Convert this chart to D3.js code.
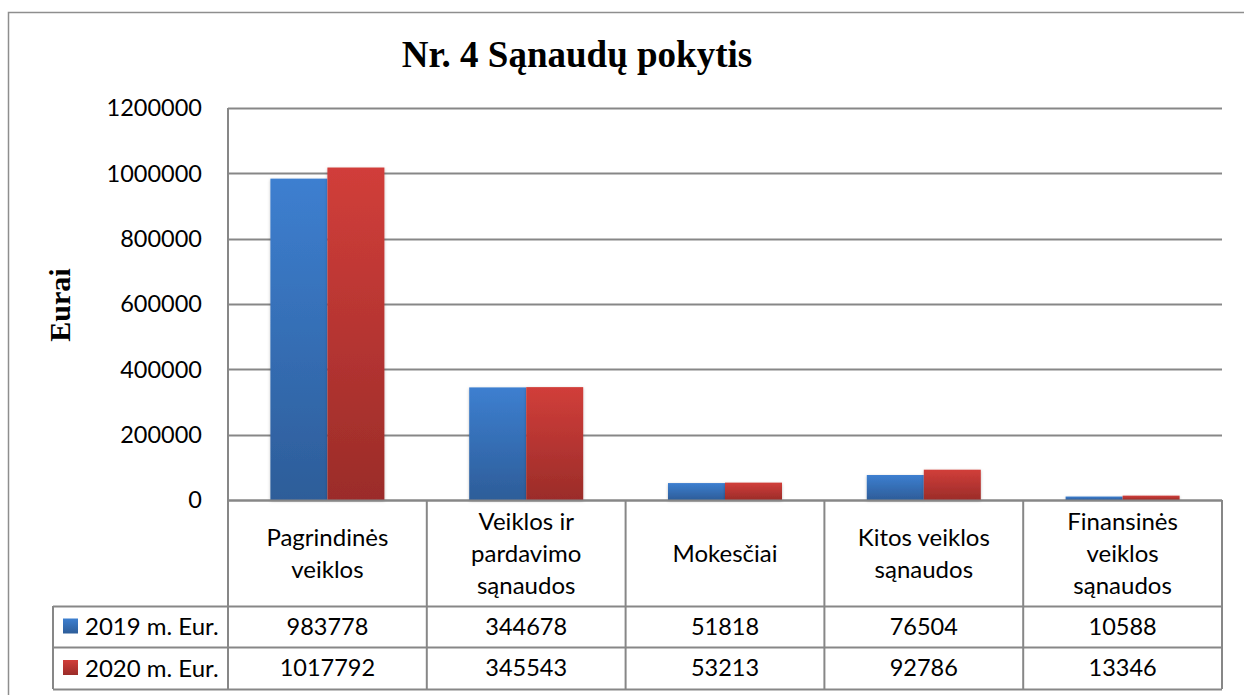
<!DOCTYPE html>
<html>
<head>
<meta charset="utf-8">
<script src="https://cdn.jsdelivr.net/npm/d3@7"></script>
<style>
  body { margin: 0; background: #fff; }
  svg { display: block; }
</style>
</head>
<body>
<div id="chart"></div>
<script>
// chart values
var categories = [
  ['Pagrindinės', 'veiklos'],
  ['Veiklos ir', 'pardavimo', 'sąnaudos'],
  ['Mokesčiai'],
  ['Kitos veiklos', 'sąnaudos'],
  ['Finansinės', 'veiklos', 'sąnaudos']
];
var seriesNames = ['2019 m. Eur.', '2020 m. Eur.'];
var values2019 = [983778, 344678, 51818, 76504, 10588];
var values2020 = [1017792, 345543, 53213, 92786, 13346];
var yTicks = [0, 200000, 400000, 600000, 800000, 1000000, 1200000];

var width = 1244, height = 695;
var plot = { left: 228, right: 1222, top: 108, bottom: 500 };
var headerBottom = 606, row1Bottom = 647, row2Bottom = 689, legendLeft = 53;
var gridColor = '#878787';
var labelFont = 'Lato, "Open Sans", sans-serif';
var numSize = '23.5px', catSize = '24px';

var svg = d3.select('#chart').append('svg')
  .attr('width', width)
  .attr('height', height);

var defs = svg.append('defs');
var grads = [
  { id: 'g2019', top: '#3d7fd0', bottom: '#2d5d99' },
  { id: 'g2020', top: '#d13e3a', bottom: '#9b2c29' }
];
grads.forEach(function(g) {
  var lg = defs.append('linearGradient')
    .attr('id', g.id)
    .attr('x1', 0).attr('y1', 0).attr('x2', 0).attr('y2', 1);
  lg.append('stop').attr('offset', '0%').attr('stop-color', g.top);
  lg.append('stop').attr('offset', '100%').attr('stop-color', g.bottom);
});
var shadow = defs.append('filter').attr('id', 'shadow')
  .attr('x', '-20%').attr('y', '-20%').attr('width', '140%').attr('height', '140%');
shadow.append('feDropShadow')
  .attr('dx', 0).attr('dy', 1).attr('stdDeviation', 1.5)
  .attr('flood-color', '#000').attr('flood-opacity', 0.25);

// outer frame
svg.append('rect')
  .attr('x', 8.5).attr('y', 12.5)
  .attr('width', 1260).attr('height', 700)
  .attr('fill', 'none')
  .attr('stroke', '#8e8e8e')
  .attr('stroke-width', 1.5);

// title
svg.append('text')
  .attr('x', 577)
  .attr('y', 67)
  .attr('text-anchor', 'middle')
  .attr('font-family', '"Liberation Serif", "Times New Roman", serif')
  .attr('font-weight', 'bold')
  .attr('font-size', '37px')
  .text('Nr. 4 Sąnaudų pokytis');

// y title
svg.append('text')
  .attr('transform', 'translate(70,305) rotate(-90)')
  .attr('text-anchor', 'middle')
  .attr('font-family', '"Liberation Serif", "Times New Roman", serif')
  .attr('font-weight', 'bold')
  .attr('font-size', '30px')
  .text('Eurai');

var y = d3.scaleLinear()
  .domain([0, 1200000])
  .range([plot.bottom, plot.top]);

var x0 = d3.scaleBand()
  .domain(d3.range(categories.length))
  .range([plot.left, plot.right]);

// gridlines
svg.append('g')
  .selectAll('line')
  .data(yTicks)
  .enter()
  .append('line')
  .attr('x1', plot.left)
  .attr('x2', plot.right)
  .attr('y1', function(d) { return Math.round(y(d)) + 0.5; })
  .attr('y2', function(d) { return Math.round(y(d)) + 0.5; })
  .attr('stroke', gridColor)
  .attr('stroke-width', 2);

// y axis line
svg.append('line')
  .attr('x1', plot.left).attr('x2', plot.left)
  .attr('y1', plot.top).attr('y2', row1Bottom)
  .attr('stroke', gridColor)
  .attr('stroke-width', 2);

// y tick labels
svg.append('g')
  .selectAll('text')
  .data(yTicks)
  .enter()
  .append('text')
  .attr('x', 202)
  .attr('y', function(d) { return y(d); })
  .attr('dy', '0.36em')
  .attr('text-anchor', 'end')
  .attr('font-family', labelFont)
  .attr('font-size', numSize)
  .attr('fill', '#000')
  .text(function(d) { return d; });

// bars
var series = [values2019, values2020];
var barW = 57;
series.forEach(function(vals, si) {
  svg.append('g')
    .selectAll('rect')
    .data(vals)
    .enter()
    .append('rect')
    .attr('x', function(d, i) {
      return x0(i) + x0.bandwidth() / 2 - barW + si * barW;
    })
    .attr('y', function(d) { return y(d); })
    .attr('width', barW)
    .attr('height', function(d) { return plot.bottom - y(d); })
    .attr('fill', 'url(#' + grads[si].id + ')')
    .attr('filter', 'url(#shadow)');
});

// data table
var tbl = svg.append('g');
var lineAttrs = function(sel) {
  sel.attr('stroke', gridColor).attr('stroke-width', 2).attr('fill', 'none');
};
// horizontal lines
[[plot.left, plot.bottom], [legendLeft, headerBottom], [legendLeft, row1Bottom], [legendLeft, row2Bottom]]
  .forEach(function(h) {
    tbl.append('line')
      .attr('x1', h[0]).attr('x2', plot.right)
      .attr('y1', h[1] + 0.5).attr('y2', h[1] + 0.5)
      .call(lineAttrs);
  });
// vertical lines
d3.range(categories.length + 1).forEach(function(i) {
  var xx = i < categories.length ? x0(i) : plot.right;
  tbl.append('line')
    .attr('x1', xx).attr('x2', xx)
    .attr('y1', plot.bottom).attr('y2', row2Bottom)
    .call(lineAttrs);
});
tbl.append('line')
  .attr('x1', legendLeft).attr('x2', legendLeft)
  .attr('y1', headerBottom).attr('y2', row2Bottom)
  .call(lineAttrs);

// category labels
var lineH = 32;
var headerMid = (plot.bottom + headerBottom) / 2;
categories.forEach(function(lines, i) {
  var t = tbl.append('text')
    .attr('text-anchor', 'middle')
    .attr('font-family', labelFont)
    .attr('font-size', catSize)
    .attr('fill', '#000');
  lines.forEach(function(ln, k) {
    t.append('tspan')
      .attr('x', x0(i) + x0.bandwidth() / 2)
      .attr('y', headerMid + (k - (lines.length - 1) / 2) * lineH)
      .attr('dy', '0.36em')
      .text(ln);
  });
});

// value rows with legend keys
var rowMids = [(headerBottom + row1Bottom) / 2, (row1Bottom + row2Bottom) / 2];
series.forEach(function(vals, si) {
  var ym = rowMids[si];
  tbl.append('rect')
    .attr('x', 63).attr('y', ym - 8)
    .attr('width', 15).attr('height', 15)
    .attr('fill', 'url(#' + grads[si].id + ')');
  tbl.append('text')
    .attr('x', 85)
    .attr('y', ym)
    .attr('dy', '0.36em')
    .attr('font-family', labelFont)
    .attr('font-size', catSize)
    .text(seriesNames[si]);
  tbl.selectAll('text.v' + si)
    .data(vals)
    .enter()
    .append('text')
    .attr('class', 'v' + si)
    .attr('x', function(d, i) { return x0(i) + x0.bandwidth() / 2; })
    .attr('y', ym)
    .attr('dy', '0.36em')
    .attr('text-anchor', 'middle')
    .attr('font-family', labelFont)
    .attr('font-size', numSize)
    .text(function(d) { return d; });
});
</script>
</body>
</html>
